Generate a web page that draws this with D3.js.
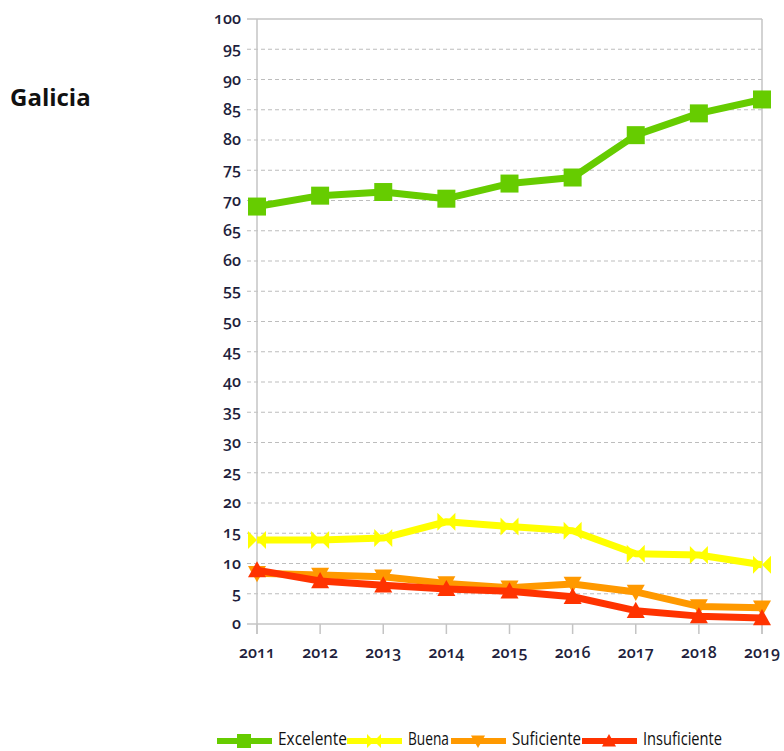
<!DOCTYPE html>
<html>
<head>
<meta charset="utf-8">
<script src="https://cdn.jsdelivr.net/npm/d3@7"></script>
<style>
  body { margin: 0; background: #fff; }
  svg { display: block; }
  .tick-label { font-family: 'Open Sans', sans-serif; font-weight: 600; font-size: 16px; fill: #1f1f3d; font-variant-numeric: oldstyle-nums; }
</style>
</head>
<body>
<div id="chart"></div>
<script>
const years = [2011, 2012, 2013, 2014, 2015, 2016, 2017, 2018, 2019];
const excelente = [69.0, 70.8, 71.4, 70.3, 72.8, 73.8, 80.8, 84.4, 86.7];
const buena = [13.9, 13.9, 14.2, 16.9, 16.1, 15.4, 11.6, 11.4, 9.8];
const suficiente = [8.4, 8.1, 7.8, 6.7, 6.0, 6.6, 5.3, 2.9, 2.7];
const insuficiente = [8.9, 7.1, 6.4, 5.8, 5.4, 4.5, 2.2, 1.3, 1.0];
const yTicks = d3.range(0, 101, 5);
const seriesNames = ['Excelente', 'Buena', 'Suficiente', 'Insuficiente'];

const W = 784, H = 751;
const margin = { left: 257, right: 22, top: 19, bottom: 127 };

const svg = d3.select('#chart').append('svg')
    .attr('width', W)
    .attr('height', H);

const x = d3.scalePoint()
    .domain(years)
    .range([margin.left, W - margin.right]);

const y = d3.scaleLinear()
    .domain([0, 100])
    .range([H - margin.bottom, margin.top]);

// region label
svg.append('text')
    .attr('x', 10)
    .attr('y', 106)
    .style('font-family', "'Open Sans', sans-serif")
    .style('font-weight', 700)
    .style('font-size', '24px')
    .style('fill', '#111')
    .text('Galicia');

// grid lines
svg.append('g').selectAll('line')
    .data(yTicks.filter(d => d > 0 && d < 100))
    .enter().append('line')
    .attr('x1', margin.left - 10)
    .attr('x2', W - margin.right)
    .attr('y1', d => y(d))
    .attr('y2', d => y(d))
    .attr('stroke', '#bdbdbd')
    .attr('stroke-width', 1.2)
    .attr('stroke-dasharray', '4,3');

// frame: top, bottom, left, right
const frame = svg.append('g').attr('stroke', '#c4c4c4').attr('stroke-width', 1.5);
frame.append('line')
    .attr('x1', margin.left - 10).attr('x2', W - margin.right)
    .attr('y1', y(100)).attr('y2', y(100));
frame.append('line')
    .attr('x1', margin.left - 10).attr('x2', W - margin.right)
    .attr('y1', y(0)).attr('y2', y(0));
frame.append('line')
    .attr('x1', margin.left).attr('x2', margin.left)
    .attr('y1', y(100)).attr('y2', y(0) + 10);
frame.append('line')
    .attr('x1', W - margin.right).attr('x2', W - margin.right)
    .attr('y1', y(100)).attr('y2', y(0) + 10);

// x ticks
svg.append('g').selectAll('line')
    .data(years)
    .enter().append('line')
    .attr('x1', d => x(d)).attr('x2', d => x(d))
    .attr('y1', y(0)).attr('y2', y(0) + 10)
    .attr('stroke', '#c4c4c4')
    .attr('stroke-width', 1.5);

// y tick labels
svg.append('g').selectAll('text')
    .data(yTicks)
    .enter().append('text')
    .attr('class', 'tick-label')
    .attr('x', margin.left - 16)
    .attr('y', d => y(d))
    .attr('dy', '0.32em')
    .attr('text-anchor', 'end')
    .text(d => d);

// x tick labels
svg.append('g').selectAll('text')
    .data(years)
    .enter().append('text')
    .attr('class', 'tick-label')
    .attr('x', d => x(d))
    .attr('y', y(0) + 34)
    .attr('text-anchor', 'middle')
    .text(d => d);

// marker shapes
const markers = {
    square: s => `M${-s},${-s}H${s}V${s}H${-s}Z`,
    bowtie: s => `M${-s},${-s}L0,0L${-s},${s}ZM${s},${-s}L0,0L${s},${s}Z`,
    down: s => `M${-s},${-s * 0.8}H${s}L0,${s}Z`,
    up: s => `M${-s},${s * 0.8}H${s}L0,${-s}Z`
};

const series = [
    { name: seriesNames[0], values: excelente, color: '#66cc00', marker: 'square', size: 9 },
    { name: seriesNames[1], values: buena, color: '#ffff00', marker: 'bowtie', size: 9 },
    { name: seriesNames[2], values: suficiente, color: '#ff9900', marker: 'down', size: 9 },
    { name: seriesNames[3], values: insuficiente, color: '#ff3300', marker: 'up', size: 9 }
];

const line = d3.line()
    .x((d, i) => x(years[i]))
    .y(d => y(d));

series.forEach(s => {
    const g = svg.append('g');
    g.append('path')
        .attr('d', line(s.values))
        .attr('fill', 'none')
        .attr('stroke', s.color)
        .attr('stroke-width', 7)
        .attr('stroke-linejoin', 'round');
    g.selectAll('path.marker')
        .data(s.values)
        .enter().append('path')
        .attr('class', 'marker')
        .attr('d', markers[s.marker](s.size))
        .attr('transform', (d, i) => 'translate(' + x(years[i]) + ',' + y(d) + ')')
        .attr('fill', s.color);
});

// legend
const legendX = [217, 347, 451, 582];
const legendTextLen = [69, 41, 69, 79];
const legendY = 741;
const legend = svg.append('g');
series.forEach((s, i) => {
    const lx = legendX[i];
    legend.append('line')
        .attr('x1', lx).attr('x2', lx + 55)
        .attr('y1', legendY).attr('y2', legendY)
        .attr('stroke', s.color)
        .attr('stroke-width', 6);
    legend.append('path')
        .attr('d', markers[s.marker](7))
        .attr('transform', 'translate(' + (lx + 27) + ',' + legendY + ')')
        .attr('fill', s.color);
    legend.append('text')
        .attr('x', lx + 61)
        .attr('y', 745)
        .attr('textLength', legendTextLen[i])
        .attr('lengthAdjust', 'spacingAndGlyphs')
        .style('font-family', "'Open Sans', sans-serif")
        .style('font-size', '18px')
        .style('fill', '#111')
        .text(s.name);
});
</script>
</body>
</html>
